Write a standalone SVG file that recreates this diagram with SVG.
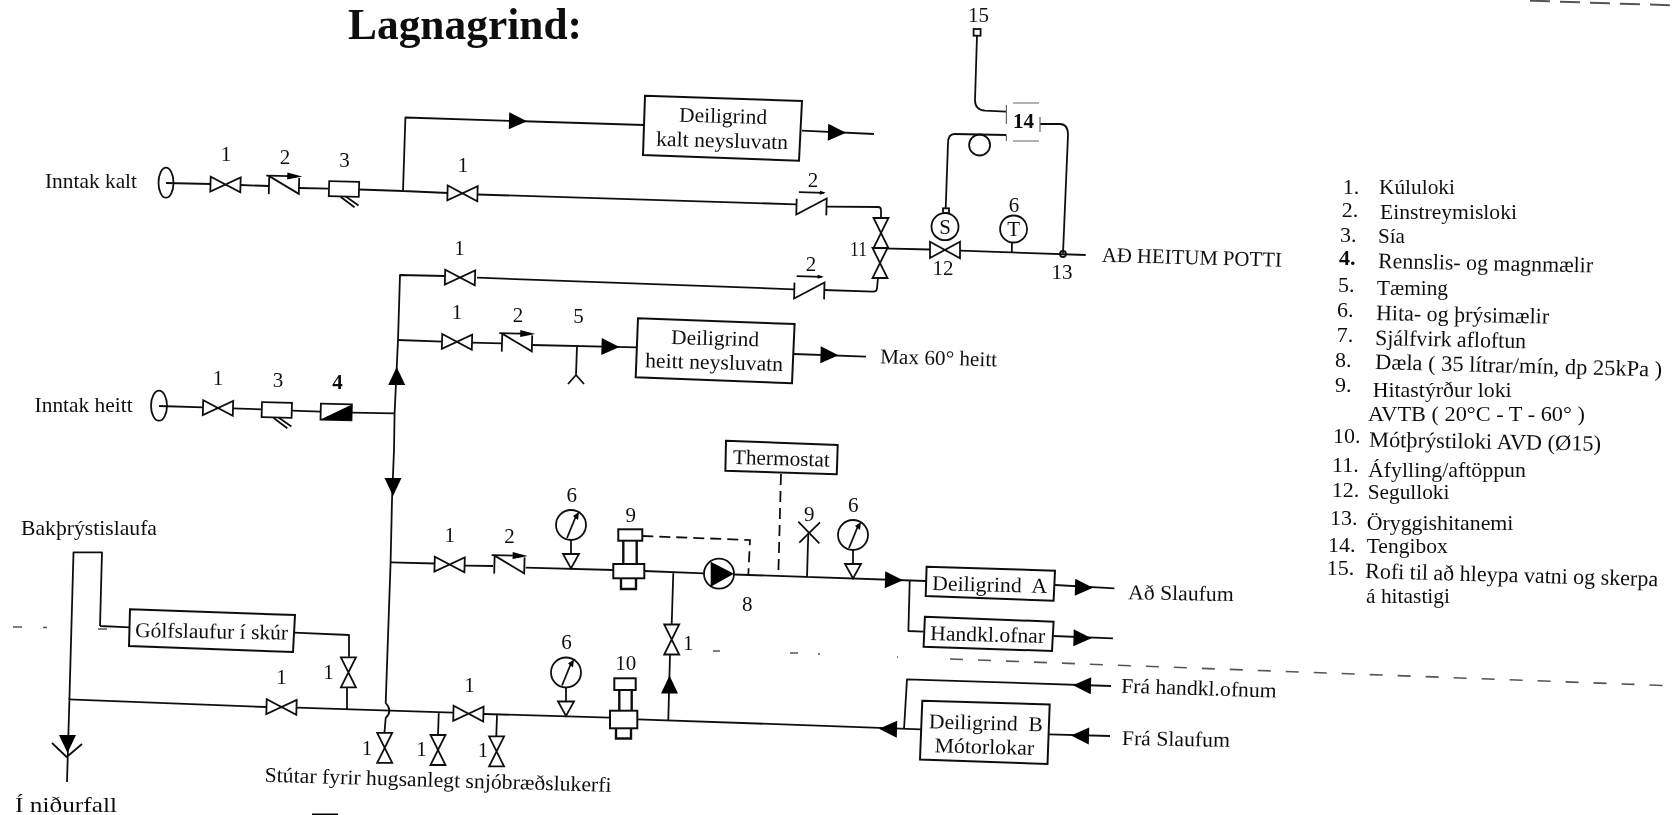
<svg xmlns="http://www.w3.org/2000/svg" width="1677" height="815" viewBox="0 0 1677 815">
<style>
text{font-family:"Liberation Serif","Times New Roman",serif;font-size:21px;fill:#111}
#legend text{font-size:22px}
.m{text-anchor:middle}
.p{fill:none;stroke:#111;stroke-width:1.8;stroke-linejoin:round}
.s{fill:none;stroke:#111;stroke-width:1.8}
.b{fill:#fff;stroke:#111;stroke-width:2}
.f{fill:#000;stroke:none}
.d{fill:none;stroke:#111;stroke-width:1.8;stroke-dasharray:11 6}
.a{fill:none;stroke:#555;stroke-width:1.6;stroke-dasharray:13 15}
</style>
<defs>
<filter id="soft" x="0" y="0" width="1" height="1" filterUnits="objectBoundingBox"><feGaussianBlur stdDeviation="0.4"/></filter>
<path id="arr" class="f" d="M-9,-8.5 L9,0 L-9,8.5 Z"/>
<path id="valve" class="s" style="fill:#fff" d="M-15,-7.5 V7.5 L15,-7.5 V7.5 Z"/>
<g id="check"><path class="s" style="fill:#fff" d="M-15,-9 V9 M-15,-9 L15,8 V-8"/><path class="s" d="M-18,-9.5 H6"/><path class="f" d="M3,-13 L18,-9.5 L3,-6 Z"/></g>
<g id="checkp"><path class="s" d="M-15,-7 V9 L15,-8 V9"/><path class="s" d="M-13,-13.5 H12"/><path class="f" d="M8,-15.5 L14,-13.5 L8,-11.5 Z"/></g>
<g id="strainer"><rect class="s" x="-15" y="-7.5" width="30" height="15" style="fill:#fff"/><path class="s" d="M-3,8 L11,18 M2,7.5 L15,16"/></g>
<g id="gauge"><circle class="s" r="15" style="fill:#fff"/><path class="s" d="M-4,13 L5,-9"/><path class="f" d="M2,-9 L8,-13 L7,-5 Z"/><path class="s" d="M0,15 V29"/><path class="s" style="fill:#fff" d="M-8,29 H8 L0,43.5 Z"/></g>
</defs>
<rect width="1677" height="815" fill="#fff"/>
<g filter="url(#soft)">
<rect width="1677" height="815" fill="#fff"/>

<g id="title"><text x="348" y="39" style="font-size:44px;font-weight:bold" textLength="234" lengthAdjust="spacingAndGlyphs">Lagnagrind:</text></g>

<g id="connectors">
<path class="p" d="M166,183 L211,184 M240,185 L269,186 M299,188 L328.6,188.6 M359,189.5 L403,191 L448,193 M403,191 L405.4,117.5 L644,125 M477,194.5 L796,204.3 M826,206.7 L878,207 Q881,207 881,210 V218"/>
<path class="p" d="M878,278 L877,288 Q877,291.7 873,291.7 L824,290 M477,277.7 L794,289.3"/>
<path class="p" d="M444.6,276 L400,275 L398,340 L394.6,413.3 L394,450 L392,500 L390.6,562.3 L385.7,703 Q393,711 385.7,718 L384.5,732.3"/>
<path class="p" d="M398,340 L443,341.7 M471,342.7 L502,343.3 M532,345 L637,347.3 M577,346 L576,375 M568,384 L576,375 L584,384 M794,354 L866,356.7 M802,130.7 L874,134"/>
<path class="p" d="M159,406 L203.6,407.3 M232,408.3 L261.8,409.3 M291.8,410.7 L320.7,411.7 M351.8,412.7 L394.6,413.3"/>
<path class="p" d="M881,248.3 L930,249.5 M960,250.7 L1085.7,255 M1012,240.7 L1011.8,252.7"/>
<path class="p" d="M977,35.7 L975,100 Q975,110 985,110.7 L1006.4,111.7 M1040,124 L1060,124 Q1068,124 1068,135 L1063,253.3 M1006.4,135 L954.6,134 Q948,134 948,143.3 L945.7,208.3"/>
<path class="p" d="M390.6,562.3 L434.7,563.5 M464.5,565.7 L493,566 M525.7,567.7 L613.3,570 M644.3,571 L704,573.3 M734,574.5 L926,581 M673.3,572.7 L671.7,624 M670,655 L668.3,720 M807,577.3 L808.3,533.3"/>
<path class="p" d="M909.7,581 L908.4,631 L923.6,631.7 M1055,585 L1114.4,588.3 M1053.6,636 L1113,638.3"/>
<path class="p" d="M637.3,719.3 L921,729.3 M904,729.3 L907,679.3 L1111,686 M1048.8,734.3 L1110,736"/>
<path class="p" d="M100,626 L130,627.3 M100,626 L102,552.3 L73.5,552.3 L69.4,700 L67,782 M294,632.7 L349,635 V656.7 M347,687.3 V709.3 M68.3,699.3 L266,707 M296.7,707.7 L453,712.7 M483.7,714 L610,717.7 M438.8,712.3 L438,735 M497,715 L496.3,736 M52,743 L66.7,757 L82,744"/>
<path class="d" d="M642.3,536 L750,540 L748.3,575"/>
<path class="d" d="M781,474 L778.3,576"/>
<use href="#arr" transform="translate(518,121) rotate(1.5)"/>
<use href="#arr" transform="translate(837,132.5) rotate(1.5)"/>
<use href="#arr" transform="translate(610.5,346.7) rotate(1.5)"/>
<use href="#arr" transform="translate(829.5,355) rotate(1.5)"/>
<use href="#arr" transform="translate(396.7,376) rotate(-90)"/>
<use href="#arr" transform="translate(393,487) rotate(90)"/>
<use href="#arr" transform="translate(67.5,744) rotate(90)"/>
<use href="#arr" transform="translate(669.5,684.5) rotate(-90)"/>
<use href="#arr" transform="translate(894,580) rotate(1.5)"/>
<use href="#arr" transform="translate(1084,587.5) rotate(1.5)"/>
<use href="#arr" transform="translate(1082.5,638) rotate(1.5)"/>
<use href="#arr" transform="translate(888,729) rotate(181.5)"/>
<use href="#arr" transform="translate(1082,685.5) rotate(181.5)"/>
<use href="#arr" transform="translate(1080,735.7) rotate(181.5)"/>
</g>

<g id="scan-marks">
<path class="a" d="M950,659 L1677,686"/>
<path class="a" d="M1530,0.7 L1677,5.5" style="stroke-width:2;stroke-dasharray:20 10"/>
<path class="a" d="M13,627 H22 M43,627.5 H47 M98,629 H107 M713,651 H720 M790,653 H798 M818,654 H820 M897,657 H898"/>
<path class="f" d="M312,813.5 H338 V815 H312 Z"/>
</g>

<g id="inntak-kalt">
<text x="45" y="187.7" textLength="92" lengthAdjust="spacingAndGlyphs">Inntak kalt</text>
<ellipse class="s" cx="166" cy="182.7" rx="7.5" ry="15"/>
<use href="#valve" transform="translate(225.5,184.5) rotate(1.5)"/><text class="m" x="226" y="161">1</text>
<use href="#check" transform="translate(284,185.5) rotate(1.5)"/><text class="m" x="285" y="164">2</text>
<use href="#strainer" transform="translate(344,189) rotate(1.5)"/><text class="m" x="344.6" y="167.3">3</text>
<use href="#valve" transform="translate(462.5,193.3) rotate(1.5)"/><text class="m" x="463" y="171.7">1</text>
<use href="#checkp" transform="translate(811.5,206) rotate(1.5)"/><text class="m" x="813" y="186.7">2</text>
</g>

<g id="deiligrind-kalt">
<polygon class="b" points="645,95.7 802,101 799,160.7 643,155"/>
<text x="679" y="121.7" textLength="88" lengthAdjust="spacingAndGlyphs" transform="rotate(1.5 679 121.7)">Deiligrind</text>
<text x="656" y="145.7" textLength="132" lengthAdjust="spacingAndGlyphs" transform="rotate(1.5 656 145.7)">kalt neysluvatn</text>
</g>

<g id="inntak-heitt">
<text x="34.6" y="411.7" textLength="98" lengthAdjust="spacingAndGlyphs">Inntak heitt</text>
<ellipse class="s" cx="159" cy="405.7" rx="8" ry="15"/>
<use href="#valve" transform="translate(218,408) rotate(1.5)"/><text class="m" x="218" y="385">1</text>
<use href="#strainer" transform="translate(276.8,410) rotate(1.5)"/><text class="m" x="278" y="386.7">3</text>
<g transform="translate(336.2,412) rotate(1.5)"><rect class="s" x="-15.5" y="-8" width="31" height="16"/><path class="f" d="M-15.5,8 L15.5,-8 V8 Z"/></g>
<text class="m" x="337.5" y="389.3" style="font-weight:bold">4</text>
</g>

<g id="hot-branches">
<use href="#valve" transform="translate(460,277.5) rotate(1.5)"/><text class="m" x="459.6" y="255">1</text>
<use href="#checkp" transform="translate(809.3,290) rotate(1.5)"/><text class="m" x="811" y="270.7">2</text>
<use href="#valve" transform="translate(457,341.8) rotate(1.5)"/><text class="m" x="457" y="319.3">1</text>
<use href="#check" transform="translate(517,343) rotate(1.5)"/><text class="m" x="518" y="321.7">2</text>
<text class="m" x="578.6" y="323">5</text>
</g>

<g id="deiligrind-heitt">
<polygon class="b" points="638,318.3 794.6,324 792,383.3 635.7,377.3"/>
<text x="671" y="344" textLength="88" lengthAdjust="spacingAndGlyphs" transform="rotate(1.5 671 344)">Deiligrind</text>
<text x="645" y="367.3" textLength="138" lengthAdjust="spacingAndGlyphs" transform="rotate(1.5 645 367.3)">heitt neysluvatn</text>
<text x="880" y="363.3" textLength="117" lengthAdjust="spacingAndGlyphs" transform="rotate(1.5 880 363.3)">Max 60° heitt</text>
</g>

<g id="valve-11">
<use href="#valve" transform="translate(881,233) rotate(90)"/>
<use href="#valve" transform="translate(880,263) rotate(90)"/>
<text x="850" y="255.7" textLength="17" lengthAdjust="spacingAndGlyphs">11</text>
</g>

<g id="valve-12">
<path class="s" style="fill:#fff" d="M930,241.7 V258 L960,241.7 V258.3 Z"/>
<circle class="s" cx="945" cy="226.7" r="13.5" style="fill:#fff"/>
<rect class="s" x="943" y="208.3" width="6" height="4.7"/>
<text class="m" x="945" y="234">S</text>
<text class="m" x="943" y="275">12</text>
</g>

<g id="temp-gauge">
<circle class="s" cx="1013.6" cy="229" r="13.5" style="fill:#fff"/>
<text class="m" x="1013.6" y="236">T</text>
<text class="m" x="1014" y="211.7">6</text>
</g>

<g id="sensor-13">
<circle class="s" cx="1063" cy="254" r="3"/>
<text class="m" x="1062" y="279.3">13</text>
<text x="1101.7" y="261.7" textLength="180" lengthAdjust="spacingAndGlyphs" transform="rotate(1.6 1101.7 261.7)">AÐ HEITUM POTTI</text>
</g>

<g id="box-14">
<path class="s" style="stroke:#666;stroke-width:1.2" d="M1013,103 H1039 M1006.4,105 V124 M1040,117 V132 M1013,141 H1039 M1006.4,136 V141"/>
<text class="m" x="1023.6" y="128.3" style="font-weight:bold">14</text>
<circle class="s" cx="979.6" cy="145" r="10.5"/>
</g>

<g id="switch-15">
<rect class="s" x="973.6" y="29" width="7" height="6.7"/>
<text class="m" x="978.6" y="21.7">15</text>
</g>

<g id="legend">
<text x="1342.7" y="194">1.</text><text x="1379" y="194" textLength="76" lengthAdjust="spacingAndGlyphs">Kúluloki</text>
<text x="1341.7" y="216.7">2.</text><text x="1380" y="219" textLength="137" lengthAdjust="spacingAndGlyphs">Einstreymisloki</text>
<text x="1340" y="241.7">3.</text><text x="1378" y="243" textLength="27" lengthAdjust="spacingAndGlyphs">Sía</text>
<text x="1339" y="265" style="font-weight:bold">4.</text><text x="1378" y="268" textLength="215" lengthAdjust="spacingAndGlyphs" transform="rotate(1.2 1378 268)">Rennslis- og magnmælir</text>
<text x="1338" y="291.7">5.</text><text x="1377" y="295" textLength="71" lengthAdjust="spacingAndGlyphs">Tæming</text>
<text x="1337" y="316.7">6.</text><text x="1376" y="320" textLength="173" lengthAdjust="spacingAndGlyphs" transform="rotate(1.2 1376 320)">Hita- og þrýsimælir</text>
<text x="1336.7" y="341.7">7.</text><text x="1375" y="345" textLength="151" lengthAdjust="spacingAndGlyphs" transform="rotate(1.2 1375 345)">Sjálfvirk afloftun</text>
<text x="1335" y="366.7">8.</text><text x="1375" y="369" textLength="287" lengthAdjust="spacingAndGlyphs" transform="rotate(1.5 1375 369)">Dæla  ( 35 lítrar/mín, dp 25kPa )</text>
<text x="1335" y="391.7">9.</text><text x="1372.7" y="396.7" textLength="139" lengthAdjust="spacingAndGlyphs">Hitastýrður loki</text>
<text x="1368" y="420.7" textLength="217" lengthAdjust="spacingAndGlyphs">AVTB ( 20°C - T - 60° )</text>
<text x="1333" y="442.7">10.</text><text x="1369" y="446.7" textLength="232" lengthAdjust="spacingAndGlyphs" transform="rotate(1 1369 446.7)">Mótþrýstiloki AVD (Ø15)</text>
<text x="1332" y="471.7">11.</text><text x="1368" y="476.7" textLength="158" lengthAdjust="spacingAndGlyphs">Áfylling/aftöppun</text>
<text x="1331.7" y="497">12.</text><text x="1367.7" y="499" textLength="81.7" lengthAdjust="spacingAndGlyphs">Segulloki</text>
<text x="1330" y="525">13.</text><text x="1366.7" y="530" textLength="146.7" lengthAdjust="spacingAndGlyphs">Öryggishitanemi</text>
<text x="1328" y="551.7">14.</text><text x="1366.7" y="553" textLength="81" lengthAdjust="spacingAndGlyphs">Tengibox</text>
<text x="1326.7" y="575">15.</text><text x="1365" y="578" textLength="293" lengthAdjust="spacingAndGlyphs" transform="rotate(1.6 1365 578)">Rofi til að hleypa vatni og skerpa</text>
<text x="1366" y="603" textLength="84" lengthAdjust="spacingAndGlyphs">á hitastigi</text>
</g>

<g id="backflow-drain">
<text x="21" y="535" textLength="136" lengthAdjust="spacingAndGlyphs">Bakþrýstislaufa</text>
<polygon class="b" points="130,609.3 295,615 293,652 129,646"/>
<text x="135" y="637" textLength="153" lengthAdjust="spacingAndGlyphs" transform="rotate(1 135 637)">Gólfslaufur í skúr</text>
<text x="15" y="812" textLength="102" lengthAdjust="spacingAndGlyphs">Í niðurfall</text>
<use href="#valve" transform="translate(281.5,707) rotate(1.5)"/><text class="m" x="281.6" y="684">1</text>
<use href="#valve" transform="translate(348.4,672.3) rotate(90)"/><text class="m" x="328.6" y="679">1</text>
</g>

<g id="snow-melt">
<use href="#valve" transform="translate(384.7,747.8) rotate(90)"/><text class="m" x="367" y="755">1</text>
<use href="#valve" transform="translate(438,750) rotate(90)"/><text class="m" x="421.6" y="756">1</text>
<use href="#valve" transform="translate(496.6,751.4) rotate(90)"/><text class="m" x="482.9" y="756.7">1</text>
<use href="#valve" transform="translate(468.4,713.7) rotate(1.5)"/><text class="m" x="469.4" y="691.7">1</text>
<text x="264.5" y="781.7" textLength="347" lengthAdjust="spacingAndGlyphs" transform="rotate(1.7 264.5 781.7)">Stútar fyrir hugsanlegt snjóbræðslukerfi</text>
</g>

<g id="supply-line">
<use href="#valve" transform="translate(449.6,564.5) rotate(1.5)"/><text class="m" x="449.8" y="541.7">1</text>
<use href="#check" transform="translate(509.4,565) rotate(1.5)"/><text class="m" x="509.4" y="543.3">2</text>
<use href="#gauge" transform="translate(571,525)"/><text class="m" x="571.7" y="501.7">6</text>
<g id="valve-9">
<rect class="b" x="618.3" y="529.3" width="24" height="11.4"/>
<path class="s" style="stroke-width:2.4" d="M623.3,540.7 V564 M636.7,540.7 V564"/>
<rect class="b" x="613.3" y="564" width="31" height="14.3"/>
<path class="s" style="stroke-width:2.4" d="M621,578.3 V589 H636 V578.3"/>
<text class="m" x="630.7" y="521.7">9</text>
</g>
<g id="pump-8">
<circle class="s" cx="719" cy="573.7" r="15" style="fill:#fff"/>
<path class="f" d="M710.7,561.7 L734,573.7 L710.7,586.7 Z"/>
<text class="m" x="747.3" y="611">8</text>
</g>
<use href="#valve" transform="translate(671.7,639.5) rotate(90)"/><text class="m" x="688.3" y="650">1</text>
<g id="air-vent">
<path class="s" d="M798.3,521.7 L819.3,543.3 M799.3,542.7 L820,522.3"/>
<text class="m" x="809.3" y="520.7">9</text>
</g>
<use href="#gauge" transform="translate(853,535)"/><text class="m" x="853.3" y="511.7">6</text>
</g>

<g id="thermostat">
<polygon class="b" points="726,440.7 837.7,445 836.8,474.3 725.4,470.7"/>
<text x="732.7" y="464" textLength="97" lengthAdjust="spacingAndGlyphs" transform="rotate(1.5 732.7 464)">Thermostat</text>
</g>

<g id="deiligrind-a">
<polygon class="b" points="926.6,566.7 1055,570.7 1053.6,600.7 925.7,596"/>
<text x="932" y="590" textLength="115" lengthAdjust="spacingAndGlyphs" transform="rotate(1.5 932 590)" xml:space="preserve">Deiligrind  A</text>
<text x="1128" y="599.3" textLength="105.6" lengthAdjust="spacingAndGlyphs" transform="rotate(1 1128 599.3)">Að Slaufum</text>
</g>

<g id="handkl-ofnar">
<polygon class="b" points="924.9,616.7 1053.6,621.7 1052,651 923.6,646.7"/>
<text x="930" y="640" textLength="115" lengthAdjust="spacingAndGlyphs" transform="rotate(1.5 930 640)">Handkl.ofnar</text>
</g>

<g id="return-line">
<use href="#gauge" transform="translate(566,672.5)"/><text class="m" x="566.5" y="649.3">6</text>
<g id="valve-10">
<rect class="b" x="614.3" y="678.3" width="21.4" height="11.7"/>
<path class="s" style="stroke-width:2.4" d="M619.3,690 V710.7 M631.7,690 V710.7"/>
<rect class="b" x="610" y="710.7" width="27.3" height="17.6"/>
<path class="s" style="stroke-width:2.4" d="M616,728.3 V738.5 H631 V728.3"/>
<text class="m" x="625.7" y="670">10</text>
</g>
</g>

<g id="deiligrind-b">
<polygon class="b" points="922.3,700.7 1049.7,704.5 1047.5,764 920,759.5"/>
<text x="928.8" y="728.3" textLength="114" lengthAdjust="spacingAndGlyphs" transform="rotate(1.5 928.8 728.3)" xml:space="preserve">Deiligrind  B</text>
<text x="934.4" y="752.3" textLength="99.6" lengthAdjust="spacingAndGlyphs" transform="rotate(1.5 934.4 752.3)">Mótorlokar</text>
<text x="1121" y="692.7" textLength="155.5" lengthAdjust="spacingAndGlyphs" transform="rotate(1.8 1121 692.7)">Frá handkl.ofnum</text>
<text x="1121.8" y="745" textLength="108" lengthAdjust="spacingAndGlyphs" transform="rotate(1 1121.8 745)">Frá Slaufum</text>
</g>
</g>
</svg>
